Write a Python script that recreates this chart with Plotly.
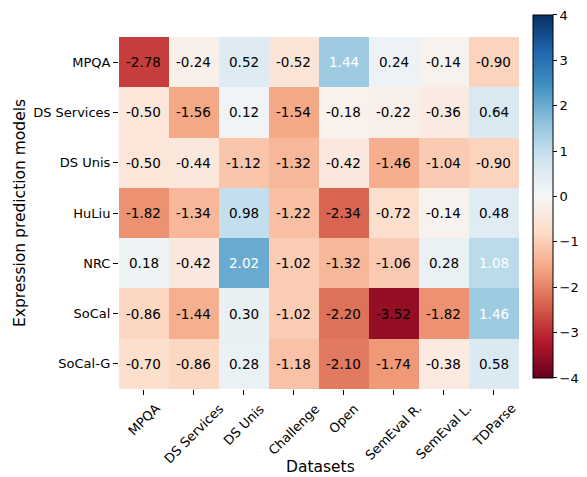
import plotly.graph_objects as go

datasets = ["MPQA", "DS Services", "DS Unis", "Challenge", "Open", "SemEval R.", "SemEval L.", "TDParse"]
models = ["MPQA", "DS Services", "DS Unis", "HuLiu", "NRC", "SoCal", "SoCal-G"]

row_mpqa = [-2.78, -0.24, 0.52, -0.52, 1.44, 0.24, -0.14, -0.90]
row_ds_services = [-0.50, -1.56, 0.12, -1.54, -0.18, -0.22, -0.36, 0.64]
row_ds_unis = [-0.50, -0.44, -1.12, -1.32, -0.42, -1.46, -1.04, -0.90]
row_huliu = [-1.82, -1.34, 0.98, -1.22, -2.34, -0.72, -0.14, 0.48]
row_nrc = [0.18, -0.42, 2.02, -1.02, -1.32, -1.06, 0.28, 1.08]
row_socal = [-0.86, -1.44, 0.30, -1.02, -2.20, -3.52, -1.82, 1.46]
row_socal_g = [-0.70, -0.86, 0.28, -1.18, -2.10, -1.74, -0.38, 0.58]

z = [row_mpqa, row_ds_services, row_ds_unis, row_huliu, row_nrc, row_socal, row_socal_g]

colorbar_ticks = [-4, -3, -2, -1, 0, 1, 2, 3, 4]

rdbu = ["#67001f", "#b2182b", "#d6604d", "#f4a582", "#fddbc7", "#f7f7f7",
        "#d1e5f0", "#92c5de", "#4393c3", "#2166ac", "#053061"]
colorscale = [[i / (len(rdbu) - 1), c] for i, c in enumerate(rdbu)]

FONT = "DejaVu Sans"
TICK = 13
VAL = 13.5
TITLE = 15.5

fig = go.Figure(go.Heatmap(
    z=z, x=datasets, y=models,
    zmin=-4, zmax=4,
    colorscale=colorscale,
    colorbar=dict(
        thickness=20, len=1.031, lenmode="fraction",
        x=1.0299, xanchor="left", xpad=0,
        y=0.547, yanchor="middle", ypad=0,
        tickvals=colorbar_ticks,
        ticks="outside", ticklen=4, tickcolor="black",
        outlinewidth=1, outlinecolor="black",
        tickfont=dict(family=FONT, size=TICK, color="black"),
    ),
    hoverinfo="skip",
))

annotations = []
for i, m in enumerate(models):
    for j, d in enumerate(datasets):
        v = z[i][j]
        annotations.append(dict(
            x=d, y=m, text=f"{v:.2f}", showarrow=False,
            font=dict(family=FONT, size=VAL, color="white" if v > 1 else "black"),
        ))

# rotated x tick labels, centred on the tick like matplotlib
for d in datasets:
    annotations.append(dict(
        x=d, xref="x", y=0, yref="paper", yshift=-9,
        text=d, textangle=-45, showarrow=False,
        xanchor="center", yanchor="top",
        font=dict(family=FONT, size=TICK, color="black"),
    ))

annotations.append(dict(
    x=0.5, xref="paper", y=-78 / 352, yref="paper",
    text="Datasets", showarrow=False, xanchor="center", yanchor="middle",
    font=dict(family=FONT, size=TITLE, color="black"),
))
annotations.append(dict(
    x=(20 - 119) / 402, xref="paper", y=0.5, yref="paper",
    text="Expression prediction models", textangle=-90, showarrow=False,
    xanchor="center", yanchor="middle",
    font=dict(family=FONT, size=TITLE, color="black"),
))

fig.update_layout(
    width=587, height=477,
    margin=dict(l=119, r=66, t=37, b=88, autoexpand=False),
    paper_bgcolor="white", plot_bgcolor="white",
    annotations=annotations,
    font=dict(family=FONT, color="black"),
    xaxis=dict(
        ticks="outside", ticklen=5, tickcolor="black", showticklabels=False,
        showgrid=False, zeroline=False, automargin=False,
    ),
    yaxis=dict(
        autorange="reversed", ticks="outside", ticklen=5, tickcolor="black",
        tickfont=dict(family=FONT, size=TICK, color="black"),
        showgrid=False, zeroline=False, automargin=False,
    ),
)

fig.write_html(
    "out.html",
    config={"displayModeBar": False},
    post_script="document.body.style.margin='0';document.body.style.overflow='hidden';",
)
